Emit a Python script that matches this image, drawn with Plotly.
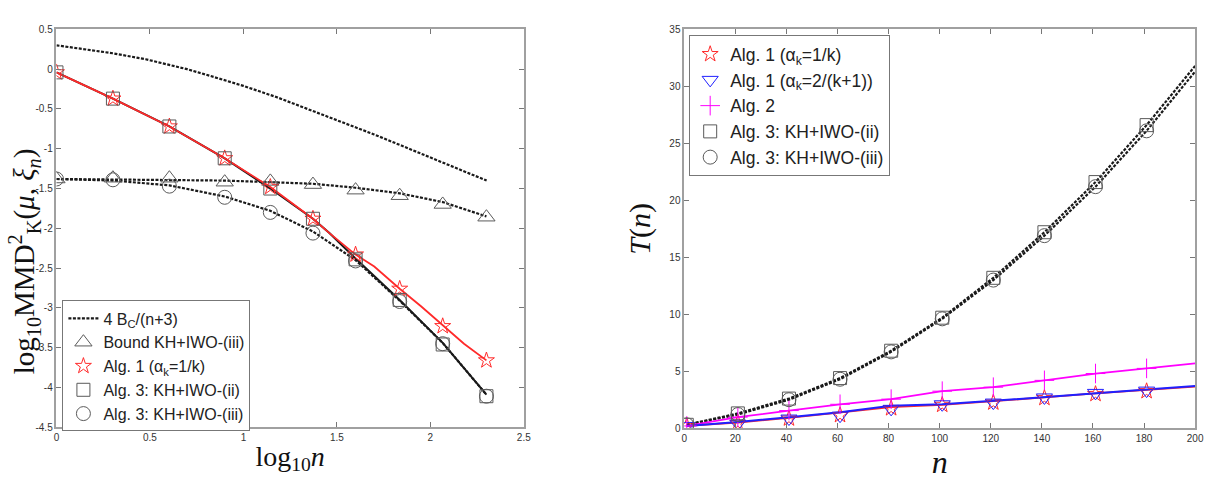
import plotly.graph_objects as go

# ---------------- Left panel data (log10 n) ----------------
bound_x = [0, 0.301, 0.477, 0.699, 0.845, 1.0, 1.176, 1.301, 1.477, 1.699, 1.845, 2.0, 2.176, 2.301]
bound_y = [0.30, 0.20, 0.125, 0.0, -0.10, -0.21, -0.35, -0.46, -0.62, -0.82, -0.96, -1.11, -1.28, -1.40]

mk_x = [0, 0.302, 0.604, 0.90, 1.144, 1.372, 1.60, 1.836, 2.066, 2.30]
tri_y = [-1.38, -1.37, -1.37, -1.42, -1.41, -1.45, -1.52, -1.59, -1.70, -1.86]
tri_line_y = [-1.38, -1.385, -1.39, -1.40, -1.42, -1.44, -1.49, -1.56, -1.67, -1.85]

red_x = [0, 0.302, 0.604, 0.90, 1.144, 1.372, 1.46, 1.60, 1.70, 1.836, 1.95, 2.066, 2.18, 2.30]
red_y = [-0.04, -0.37, -0.72, -1.12, -1.48, -1.88, -2.06, -2.33, -2.48, -2.76, -2.98, -3.22, -3.45, -3.66]
star_y = [-0.04, -0.37, -0.72, -1.12, -1.48, -1.88, -2.33, -2.76, -3.23, -3.66]

sq_x = [0, 0.302, 0.604, 0.90, 1.144, 1.372, 1.46, 1.60, 1.836, 2.066, 2.30]
sq_line_y = [-0.04, -0.37, -0.72, -1.12, -1.50, -1.88, -2.06, -2.38, -2.90, -3.44, -4.09]
sq_y = [-0.04, -0.37, -0.72, -1.12, -1.50, -1.88, -2.39, -2.90, -3.46, -4.11]

circ_line_y = [-1.38, -1.40, -1.46, -1.60, -1.78, -2.04, -2.40, -2.91, -3.44, -4.09]
circ_y = [-1.38, -1.39, -1.47, -1.61, -1.80, -2.06, -2.41, -2.92, -3.45, -4.11]

# ---------------- Right panel data (n) ----------------
n_line = [1, 21, 41, 61, 81, 101, 121, 141, 161, 181, 200]
n_mk = [1, 21, 41, 61, 81, 101, 121, 141, 161, 181]
T_alg1a = [0.2, 0.5, 0.9, 1.35, 1.85, 2.05, 2.35, 2.7, 3.05, 3.35, 3.65]
T_alg1a_mk = [0.2, 0.45, 0.85, 1.15, 1.75, 2.05, 2.25, 2.65, 3.0, 3.25]
T_alg1b = [0.2, 0.55, 0.97, 1.4, 1.97, 2.1, 2.4, 2.75, 3.1, 3.4, 3.7]
T_alg1b_mk = [0.2, 0.4, 0.85, 1.1, 1.7, 2.1, 2.25, 2.7, 3.1, 3.3]
T_alg2 = [0.2, 0.97, 1.55, 2.1, 2.55, 3.25, 3.6, 4.2, 4.8, 5.25, 5.7]
T_alg3ii = [0.3, 1.3, 2.6, 4.4, 6.8, 9.7, 13.2, 17.2, 21.6, 26.6, 31.8]
T_alg3iii = [0.3, 1.2, 2.5, 4.3, 6.7, 9.6, 13.0, 16.9, 21.2, 26.1, 31.3]

left_xticks = [0, 0.5, 1, 1.5, 2, 2.5]
left_yticks = [0.5, 0, -0.5, -1, -1.5, -2, -2.5, -3, -3.5, -4, -4.5]
right_xticks = [0, 20, 40, 60, 80, 100, 120, 140, 160, 180, 200]
right_yticks = [0, 5, 10, 15, 20, 25, 30, 35]

def lab(v):
    s = "%g" % abs(v)
    return ("-" if v < 0 else "") + s

BLACK = "#1a1a1a"
GRAY = "#5a5a5a"
RED = "#ff2a2a"
BLUE = "#2020ff"
MAG = "#ff00ff"
DOT = "3px,1.5px"

fig = go.Figure()

# ---- left panel traces ----
fig.add_trace(go.Scatter(x=bound_x, y=bound_y, mode="lines", name="4 B<sub>C</sub>/(n+3)",
                         line=dict(color=BLACK, width=2.2, dash=DOT), legend="legend",
                         xaxis="x", yaxis="y"))
fig.add_trace(go.Scatter(x=mk_x, y=tri_line_y, mode="lines", showlegend=False,
                         line=dict(color=BLACK, width=2.2, dash=DOT), xaxis="x", yaxis="y"))
fig.add_trace(go.Scatter(x=mk_x, y=circ_line_y, mode="lines", showlegend=False,
                         line=dict(color=BLACK, width=2.2, dash=DOT), xaxis="x", yaxis="y"))
fig.add_trace(go.Scatter(x=sq_x, y=sq_line_y, mode="lines", showlegend=False,
                         line=dict(color=BLACK, width=2), xaxis="x", yaxis="y"))
fig.add_trace(go.Scatter(x=red_x, y=red_y, mode="lines", showlegend=False,
                         line=dict(color=RED, width=1.8), xaxis="x", yaxis="y"))
fig.add_trace(go.Scatter(x=mk_x, y=tri_y, mode="markers", name="Bound KH+IWO-(iii)",
                         marker=dict(symbol="triangle-up-open", size=15, color=GRAY, line=dict(width=1)),
                         legend="legend", xaxis="x", yaxis="y"))
fig.add_trace(go.Scatter(x=mk_x, y=star_y, mode="markers", name="Alg. 1 (α<sub>k</sub>=1/k)",
                         marker=dict(symbol="star-open", size=12, color=RED, line=dict(width=1)),
                         legend="legend", xaxis="x", yaxis="y"))
fig.add_trace(go.Scatter(x=mk_x, y=sq_y, mode="markers", name="Alg. 3: KH+IWO-(ii)",
                         marker=dict(symbol="square-open", size=13, color=GRAY, line=dict(width=1)),
                         legend="legend", xaxis="x", yaxis="y"))
fig.add_trace(go.Scatter(x=mk_x, y=circ_y, mode="markers", name="Alg. 3: KH+IWO-(iii)",
                         marker=dict(symbol="circle-open", size=14, color=GRAY, line=dict(width=1)),
                         legend="legend", xaxis="x", yaxis="y"))

# ---- right panel traces ----
fig.add_trace(go.Scatter(x=n_line, y=T_alg3ii, mode="lines", showlegend=False,
                         line=dict(color=BLACK, width=2.2, dash=DOT), xaxis="x2", yaxis="y2"))
fig.add_trace(go.Scatter(x=n_line, y=T_alg3iii, mode="lines", showlegend=False,
                         line=dict(color=BLACK, width=2.2, dash=DOT), xaxis="x2", yaxis="y2"))
fig.add_trace(go.Scatter(x=n_line, y=T_alg2, mode="lines", showlegend=False,
                         line=dict(color=MAG, width=1.8), xaxis="x2", yaxis="y2"))
fig.add_trace(go.Scatter(x=n_line, y=T_alg1a, mode="lines", showlegend=False,
                         line=dict(color=RED, width=1.8), xaxis="x2", yaxis="y2"))
fig.add_trace(go.Scatter(x=n_line, y=T_alg1b, mode="lines", showlegend=False,
                         line=dict(color=BLUE, width=2), xaxis="x2", yaxis="y2"))

fig.add_trace(go.Scatter(x=n_mk, y=T_alg1a_mk, mode="markers", name="Alg. 1 (α<sub>k</sub>=1/k)",
                         marker=dict(symbol="star-open", size=12, color=RED, line=dict(width=1)),
                         legend="legend2", xaxis="x2", yaxis="y2"))
fig.add_trace(go.Scatter(x=n_mk, y=T_alg1b_mk, mode="markers", name="Alg. 1 (α<sub>k</sub>=2/(k+1))",
                         marker=dict(symbol="triangle-down-open", size=14, color=BLUE, line=dict(width=1)),
                         legend="legend2", xaxis="x2", yaxis="y2"))
fig.add_trace(go.Scatter(x=n_mk, y=T_alg2[:-1], mode="markers", name="Alg. 2",
                         marker=dict(symbol="cross-thin-open", size=14, color=MAG, line=dict(width=1, color=MAG)),
                         legend="legend2", xaxis="x2", yaxis="y2"))
fig.add_trace(go.Scatter(x=n_mk, y=T_alg3ii[:-1], mode="markers", name="Alg. 3: KH+IWO-(ii)",
                         marker=dict(symbol="square-open", size=13, color=GRAY, line=dict(width=1)),
                         legend="legend2", xaxis="x2", yaxis="y2"))
fig.add_trace(go.Scatter(x=n_mk, y=T_alg3iii[:-1], mode="markers", name="Alg. 3: KH+IWO-(iii)",
                         marker=dict(symbol="circle-open", size=14, color=GRAY, line=dict(width=1)),
                         legend="legend2", xaxis="x2", yaxis="y2"))

W, H = 1218, 482
def px(x): return x / W
def py(y): return 1 - y / H

axis_common = dict(showline=True, linecolor="#a0a0a0", linewidth=1.5, mirror="ticks",
                   ticks="inside", ticklen=5, tickcolor="#777777", showgrid=False, zeroline=False,
                   tickfont=dict(family="Liberation Sans, Arial", size=10, color="#333333"))

serif = "Liberation Serif, DejaVu Serif, serif"

fig.update_layout(
    width=W, height=H, margin=dict(l=0, r=0, t=0, b=0),
    paper_bgcolor="white", plot_bgcolor="white",
    xaxis=dict(domain=[px(54), px(526)], range=[0, 2.5], anchor="y",
               tickvals=left_xticks, ticktext=[lab(v) for v in left_xticks],
               title=dict(text="log<sub>10</sub><i>n</i>", font=dict(family=serif, size=28, color="#111"), standoff=4),
               **axis_common),
    yaxis=dict(domain=[py(432), py(24)], range=[-4.5, 0.5], anchor="x",
               tickvals=left_yticks, ticktext=[lab(v) for v in left_yticks],
               **axis_common),
    xaxis2=dict(domain=[px(688), px(1204)], range=[0, 200], anchor="y2",
                tickvals=right_xticks, ticktext=[lab(v) for v in right_xticks],
                title=dict(text="<i>n</i>", font=dict(family=serif, size=32, color="#111"), standoff=0),
                **axis_common),
    yaxis2=dict(domain=[py(433), py(24)], range=[0, 35], anchor="x2",
                tickvals=right_yticks, ticktext=[lab(v) for v in right_yticks],
                title=dict(text="<i>T</i>(<i>n</i>)", font=dict(family=serif, size=30, color="#111"), standoff=10),
                **axis_common),
    legend=dict(x=px(60), y=py(302), xanchor="left", yanchor="top",
                bgcolor="white", bordercolor="#777777", borderwidth=1,
                font=dict(family="Liberation Sans, Arial", size=16, color="#222"),
                traceorder="normal", itemwidth=30, tracegroupgap=0),
    legend2=dict(x=px(693), y=py(30), xanchor="left", yanchor="top",
                 bgcolor="white", bordercolor="#777777", borderwidth=1,
                 font=dict(family="Liberation Sans, Arial", size=17.5, color="#222"),
                 traceorder="normal", itemwidth=30, tracegroupgap=0),
    showlegend=True,
    annotations=[dict(text="log<sub>10</sub>MMD<sup>2</sup><sub>K</sub>(<i>μ</i>, <i>ξ<sub>n</sub></i>)",
                      textangle=-90, xref="paper", yref="paper", x=px(22), y=py(262),
                      xanchor="center", yanchor="middle", showarrow=False,
                      font=dict(family=serif, size=29, color="#111"))],
)

fig.write_html("out.html")
